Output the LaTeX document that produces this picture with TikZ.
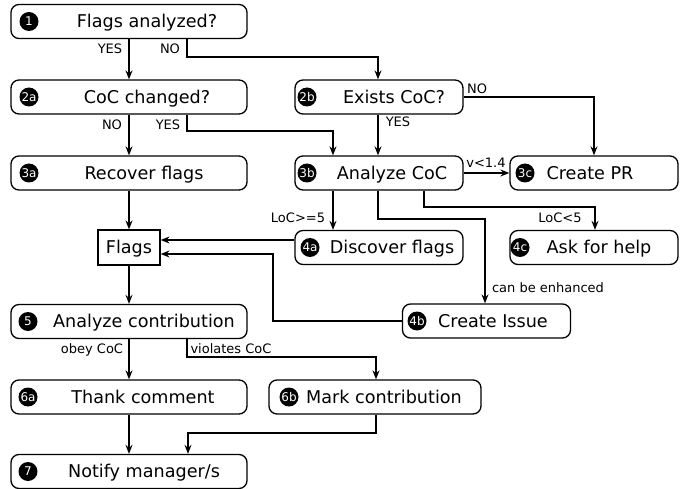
\documentclass[tikz,border=0pt]{standalone}
\usepackage{fontspec}
\setmainfont{DejaVu Sans}
\usetikzlibrary{arrows.meta}
\begin{document}
\begin{tikzpicture}[x=1pt,y=-1pt,
  box/.style={draw, line width=1.3pt, rounded corners=8pt, minimum height=34pt, inner sep=0pt},
  wide/.style={box, minimum width=236pt},
  narrow/.style={box, minimum width=168pt},
  plainbox/.style={draw, line width=1.2pt, minimum width=62pt, minimum height=35pt, inner sep=0pt},
  badge/.style={circle, fill=black, text=white, minimum size=19pt, inner sep=0pt, font=\fontsize{12pt}{12pt}\selectfont, text height=8.7pt, text depth=0pt},
  txt/.style={inner sep=0pt, font=\fontsize{17.6pt}{18pt}\selectfont, text height=12.8pt, text depth=0pt},
  lbl/.style={inner sep=0pt, font=\fontsize{13pt}{13pt}\selectfont, text height=9.5pt, text depth=0pt},
  arr/.style={line width=1.3pt, -{Stealth[length=9pt,width=7pt,inset=3pt]}}
]
\useasboundingbox (0,0) rectangle (688,489);
% boxes
\node[wide] (n1) at (129,21.5) {};
\node[badge] (b1) at (29,21.5) {1};
\node[txt] (t1) at (147,21.5) {Flags analyzed?};

\node[wide] (n2a) at (129,97) {};
\node[badge] (b2a) at (29,97) {2a};
\node[txt] (t2a) at (147,97) {CoC changed?};

\node[narrow] (n2b) at (379,97) {};
\node[badge] (b2b) at (307,97) {2b};
\node[txt] (t2b) at (394,97) {Exists CoC?};

\node[wide] (n3a) at (129,173) {};
\node[badge] (b3a) at (29,173) {3a};
\node[txt] (t3a) at (144,173) {Recover flags};

\node[narrow] (n3b) at (379,173) {};
\node[badge] (b3b) at (307,173) {3b};
\node[txt] (t3b) at (392,173) {Analyze CoC};

\node[narrow] (n3c) at (594,173) {};
\node[badge] (b3c) at (525,173) {3c};
\node[txt] (t3c) at (590,173) {Create PR};

\node[plainbox] (flags) at (129,247.5) {};
\node[txt] (tf) at (129,247.5) {Flags};

\node[narrow] (n4a) at (379,247.5) {};
\node[badge] (b4a) at (310,247.5) {4a};
\node[txt] (t4a) at (392,247.5) {Discover flags};

\node[narrow] (n4c) at (594,247.5) {};
\node[badge] (b4c) at (520,247.5) {4c};
\node[txt] (t4c) at (599,247.5) {Ask for help};

\node[narrow] (n4b) at (486.5,321) {};
\node[badge] (b4b) at (417,321) {4b};
\node[txt] (t4b) at (493,321) {Create Issue};

\node[wide] (n5) at (129,321.5) {};
\node[badge] (b5) at (28,321.5) {5};
\node[txt] (t5) at (144,321.5) {Analyze contribution};

\node[wide] (n6a) at (129,397) {};
\node[badge] (b6a) at (28,397) {6a};
\node[txt] (t6a) at (143,397) {Thank comment};

\node[box, minimum width=212pt] (n6b) at (375,397) {};
\node[badge] (b6b) at (289,397) {6b};
\node[txt] (t6b) at (384,397) {Mark contribution};

\node[wide] (n7) at (129,471.5) {};
\node[badge] (b7) at (28,471.5) {7};
\node[txt] (t7) at (144,471.5) {Notify manager/s};

% coordinates
\coordinate (c1) at (378,57);
\coordinate (c2) at (333,131);
\coordinate (c4) at (485,219);
\coordinate (c5) at (595,207);
\coordinate (c7) at (273,254);
\coordinate (c8) at (376,357);
\coordinate (c9) at (188,433);

% connectors
\draw[arr] (n1.south) -- (n2a.north);
\draw[arr] ([xshift=58pt]n1.south) |- (c1) -- (c1 |- n2b.north);
\draw[arr] (n2a.south) -- (n3a.north);
\draw[arr] ([xshift=58pt]n2a.south) |- (c2) -- (c2 |- n3b.north);
\draw[arr] ([xshift=-1pt]n2b.south) -- ([xshift=-1pt]n3b.north);
\draw[arr] (n2b.east) -| (n3c.north);
\draw[arr] (n3b.east) -- (n3c.west);
\draw[arr] (n3a.south) -- (flags.north);
\draw[arr] ([xshift=-46pt]n3b.south) -- ([xshift=-46pt]n4a.north);
\draw[arr] ([xshift=-1pt]n3b.south) |- (c4) -- (c4 |- n4b.north);
\draw[arr] ([xshift=45pt]n3b.south) |- (c5) -- (c5 |- n4c.north);
\draw[arr] ([yshift=7.5pt]n4a.west) -- ([yshift=7.5pt]flags.east);
\draw[arr] (n4b.west) -| (c7) -- (c7 -| flags.east);
\draw[arr] (flags.south) -- (n5.north);
\draw[arr] (n5.south) -- (n6a.north);
\draw[arr] ([xshift=58pt]n5.south) |- (c8) -- (c8 |- n6b.north);
\draw[arr] (n6a.south) -- (n7.north);
\draw[arr] ([xshift=1pt]n6b.south) |- (c9) -- (c9 |- n7.north);

% labels
\node[lbl] (l1) at (110,49) {YES};
\node[lbl] (l2) at (170,49) {NO};
\node[lbl] (l3) at (112,125) {NO};
\node[lbl] (l4) at (168,125) {YES};
\node[lbl] (l5) at (477,89) {NO};
\node[lbl] (l6) at (398,122) {YES};
\node[lbl] (l7) at (486,163) {v<1.4};
\node[lbl] (l8) at (298,218) {LoC>=5};
\node[lbl] (l9) at (560,218) {LoC<5};
\node[lbl] (l10) at (548,288) {can be enhanced};
\node[lbl] (l11) at (92,349) {obey CoC};
\node[lbl] (l12) at (231,349) {violates CoC};
\end{tikzpicture}
\end{document}
